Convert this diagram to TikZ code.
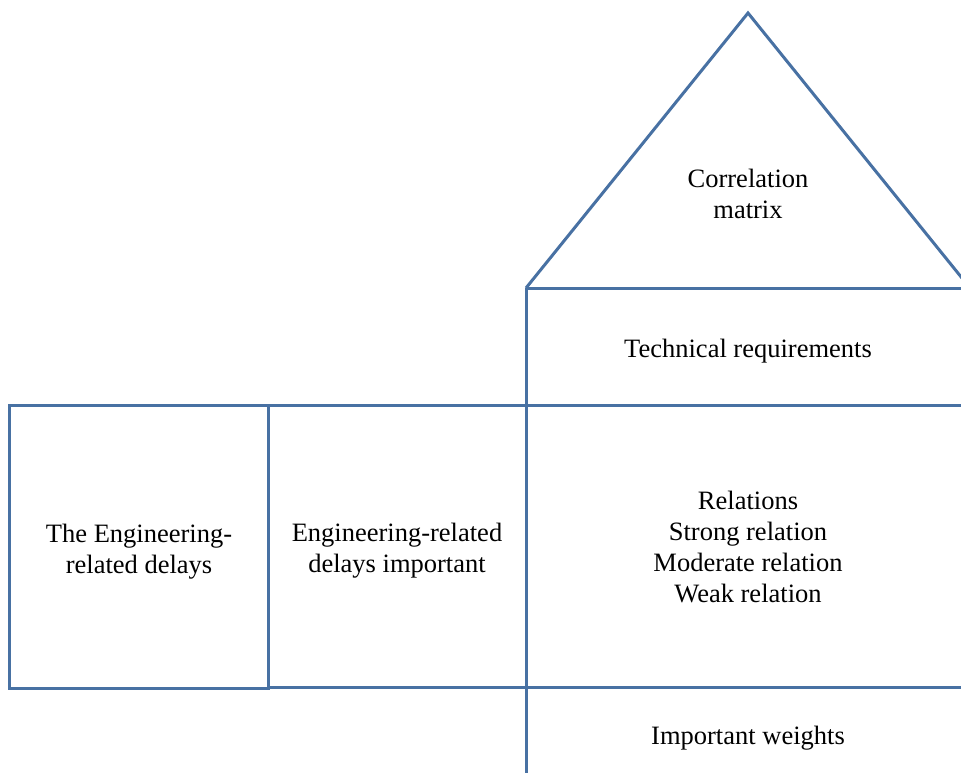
\documentclass[tikz,border=0pt]{standalone}
\usepackage{fontspec}
\setmainfont{Liberation Serif}
\definecolor{frame}{RGB}{72,113,163}
\begin{document}
\begin{tikzpicture}[x=1pt,y=-1pt,
  wall/.style={draw=frame,line width=3pt},
  label/.style={align=center,inner sep=0pt,font=\fontsize{26.5}{31}\selectfont}]
\useasboundingbox (0,0) rectangle (961,773);
\clip (0,0) rectangle (961,773);
% roof
\draw[wall,line join=miter] (526,288) -- (748,13) -- (970,288);
% right-hand column
\draw[wall] (526,288) -- (526,773);
\draw[wall] (526,288) -- (970,288);
\draw[wall] (9,405) -- (970,405);
\draw[wall] (268,687) -- (970,687);
% left-hand boxes
\draw[wall] (9,405) rectangle (268,688);
\draw[wall] (268,405) -- (268,687);
% texts
\node[label] (corr) at (748,194) {Correlation\\matrix};
\node[label] (tech) at (748,351) {Technical requirements};
\node[label] (rel) at (748,547) {Relations\\Strong relation\\Moderate relation\\Weak relation};
\node[label] (delays) at (139,552) {The Engineering-\\related delays};
\node[label] (imp) at (397,551) {Engineering-related\\delays important};
\node[label] (wts) at (748,738) {Important weights};
\end{tikzpicture}
\end{document}
